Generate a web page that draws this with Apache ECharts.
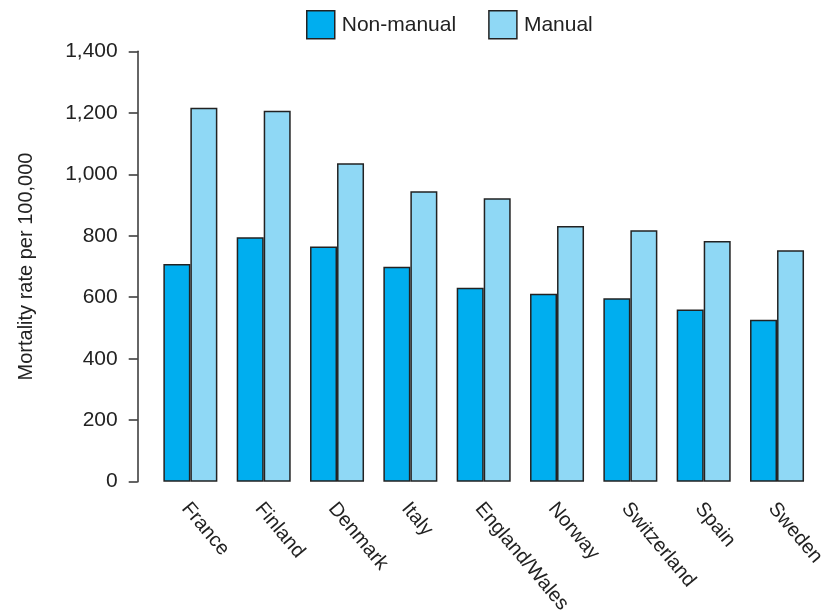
<!DOCTYPE html>
<html><head><meta charset="utf-8">
<script src="https://cdn.jsdelivr.net/npm/echarts@6/dist/echarts.min.js"></script>
<style>html,body{margin:0;padding:0;background:#fff}#c{width:826px;height:613px}</style>
</head><body><div id="c"></div>
<script>
const countries = ['France','Finland','Denmark','Italy','England/Wales','Norway','Switzerland','Spain','Sweden'];
const nonManual = [708, 795, 765, 699, 631, 611, 597, 560, 527];
const manual = [1216, 1207, 1036, 945, 922, 832, 818, 783, 753];
const yTicks = [0, 200, 400, 600, 800, 1000, 1200, 1400];
const FONT = 'Liberation Sans, Arial, sans-serif';
const chart = echarts.init(document.getElementById('c'));
chart.setOption({
  animation: false,
  textStyle: {fontFamily: FONT},
  legend: {
    top: 10, left: 306, padding: 0, itemWidth: 28, itemHeight: 28, itemGap: 32, icon: 'rect',
    textStyle: {fontSize: 21, color: '#222', fontFamily: FONT, padding: [0, 0, 0, 2]},
    itemStyle: {borderColor: '#222', borderWidth: 1.5},
    data: ['Non-manual', 'Manual']
  },
  grid: {left: 153.7, right: 12.3, top: 51.3, bottom: 131.3, containLabel: false, outerBoundsMode: 'none'},
  xAxis: {
    type: 'category', data: countries,
    axisLine: {show: false}, axisTick: {show: false},
    axisLabel: {rotate: -50, margin: 14, fontSize: 20, color: '#222', fontFamily: FONT, interval: 0,
      verticalAlign: 'top', padding: [0, 0, 0, 4]}
  },
  yAxis: {
    type: 'value', min: yTicks[0], max: yTicks[yTicks.length - 1], interval: 200, offset: 16,
    name: 'Mortality rate per 100,000', nameLocation: 'middle', nameGap: 101, nameRotate: 90,
    nameTextStyle: {fontSize: 20, color: '#222', fontFamily: FONT},
    axisLine: {show: true, lineStyle: {color: '#333', width: 1.5}},
    axisTick: {show: true, inside: false, length: 9, lineStyle: {color: '#333', width: 1.5}},
    splitLine: {show: false},
    axisLabel: {fontSize: 21, color: '#222', fontFamily: FONT, margin: 20,
      formatter: v => v.toLocaleString('en-US')}
  },
  series: [
    {name: 'Non-manual', type: 'bar', data: nonManual, barWidth: 27, barGap: '0%',
     itemStyle: {color: '#00AEEF', borderColor: '#222', borderWidth: 1.5}},
    {name: 'Manual', type: 'bar', data: manual, barWidth: 27,
     itemStyle: {color: '#8FD8F5', borderColor: '#222', borderWidth: 1.5}}
  ]
});
</script></body></html>
